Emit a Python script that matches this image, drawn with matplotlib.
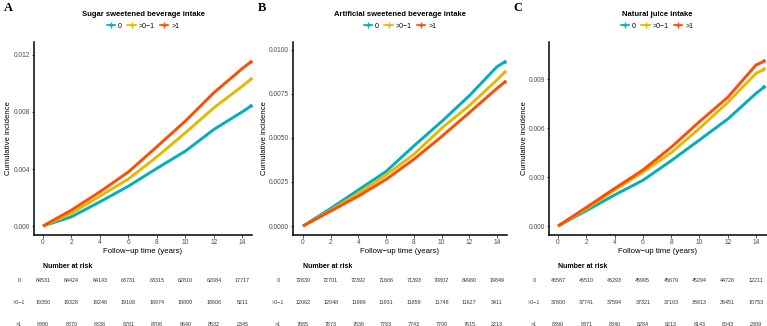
import matplotlib
matplotlib.use("Agg")
import matplotlib.pyplot as plt
from matplotlib.lines import Line2D
import numpy as np

plt.rcParams['font.family'] = ['Liberation Sans', 'DejaVu Sans']

groups = ["0", ">0\u22121", ">1"]
colors = ["#00AFBB", "#E7B800", "#FC4E07"]
times = [0, 2, 4, 6, 8, 10, 12, 14, 14.6]

# Panel A: Sugar sweetened beverage intake
a_title = "Sugar sweetened beverage intake"
a_0 = [0, 0.00065, 0.0017, 0.0028, 0.00405, 0.00526, 0.00678, 0.00802, 0.00842]
a_01 = [0, 0.00089, 0.0021, 0.0033, 0.00486, 0.00655, 0.0083, 0.00982, 0.0103]
a_1 = [0, 0.00112, 0.0024, 0.0038, 0.00557, 0.00737, 0.00936, 0.01106, 0.01153]
a_yticks = [0.000, 0.004, 0.008, 0.012]
a_yticklabels = ["0.000", "0.004", "0.008", "0.012"]
a_risk_0 = [64531, 64424, 64143, 63731, 63315, 62810, 62084, 17717]
a_risk_01 = [19350, 19328, 19246, 19108, 18974, 18800, 18606, 5211]
a_risk_1 = [8890, 8870, 8838, 8781, 8706, 8640, 8532, 2345]

# Panel B: Artificial sweetened beverage intake
b_title = "Artificial sweetened beverage intake"
b_0 = [0, 0.0010, 0.00205, 0.0031, 0.00455, 0.00593, 0.0074, 0.00905, 0.00934]
b_01 = [0, 0.0009, 0.00186, 0.0029, 0.00407, 0.00555, 0.00684, 0.0083, 0.00877]
b_1 = [0, 0.00085, 0.0017, 0.00265, 0.00379, 0.00508, 0.00644, 0.00782, 0.0082]
b_yticks = [0.0, 0.0025, 0.005, 0.0075, 0.01]
b_yticklabels = ["0.0000", "0.0025", "0.0050", "0.0075", "0.0100"]
b_risk_0 = [72830, 72701, 72392, 71686, 71393, 70802, 69980, 19849]
b_risk_01 = [12062, 12048, 11999, 11931, 11859, 11748, 11627, 3411]
b_risk_1 = [7885, 7873, 7836, 7783, 7743, 7700, 7615, 2213]

# Panel C: Natural juice intake
c_title = "Natural juice intake"
c_0 = [0, 0.00094, 0.0019, 0.0028, 0.0040, 0.00527, 0.00655, 0.00812, 0.00853]
c_01 = [0, 0.00105, 0.0022, 0.0033, 0.00449, 0.00598, 0.00757, 0.00935, 0.0096]
c_1 = [0, 0.00114, 0.0023, 0.00343, 0.00482, 0.00639, 0.00788, 0.00986, 0.0101]
c_yticks = [0.0, 0.003, 0.006, 0.009]
c_yticklabels = ["0.000", "0.003", "0.006", "0.009"]
c_risk_0 = [46587, 46510, 46293, 45995, 45679, 45294, 44728, 12211]
c_risk_01 = [37800, 37741, 37594, 37321, 37103, 36813, 36451, 10753]
c_risk_1 = [8390, 8371, 8340, 8284, 8213, 8143, 8043, 2309]

risk_times = [0, 2, 4, 6, 8, 10, 12, 14]
xticks = [0, 2, 4, 6, 8, 10, 12, 14]

W, H = 767, 326
fig = plt.figure(figsize=(W / 100, H / 100), dpi=100)

def px_rect(x0, y0, x1, y1):
    return [x0 / W, 1 - y1 / H, (x1 - x0) / W, (y1 - y0) / H]

panels = [
    dict(letter="A", lx=4, title=a_title, tx=143, series=[a_0, a_01, a_1],
         yticks=a_yticks, ytl=a_yticklabels, risk=[a_risk_0, a_risk_01, a_risk_1],
         box=(34, 42, 252, 235), xlim=(-0.63, 14.67), ylim=(-0.00063, 0.01291), ylab_x=9),
    dict(letter="B", lx=258, title=b_title, tx=400, series=[b_0, b_01, b_1],
         yticks=b_yticks, ytl=b_yticklabels, risk=[b_risk_0, b_risk_01, b_risk_1],
         box=(293, 42, 507, 235), xlim=(-0.72, 14.72), ylim=(-0.00051, 0.01045), ylab_x=264),
    dict(letter="C", lx=513, title=c_title, tx=657, series=[c_0, c_01, c_1],
         yticks=c_yticks, ytl=c_yticklabels, risk=[c_risk_0, c_risk_01, c_risk_1],
         box=(549, 42, 767, 235), xlim=(-0.64, 14.78), ylim=(-0.00055, 0.01127), ylab_x=524),
]

for p in panels:
    x0, y0, x1, y1 = p["box"]
    ax = fig.add_axes(px_rect(x0, y0, x1, y1))
    for s, c in zip(p["series"], colors):
        ax.plot(times, s, color=c, lw=2.1, solid_capstyle='butt', solid_joinstyle='round', zorder=3)
        ax.plot(times[-1:], s[-1:], marker='+', color=c, ms=3, mew=1.2, zorder=3)
    ax.set_xlim(*p["xlim"])
    ax.set_ylim(*p["ylim"])
    ax.set_xticks(xticks)
    ax.set_yticks(p["yticks"])
    ax.set_yticklabels(p["ytl"])
    for sp in ["top", "right"]:
        ax.spines[sp].set_visible(False)
    for sp in ["left", "bottom"]:
        ax.spines[sp].set_linewidth(1.1)
        ax.spines[sp].set_color("black")
    ax.tick_params(axis='both', labelsize=4.8, colors="#4D4D4D", length=1.8, width=0.6, pad=1)
    ax.tick_params(axis='both', color="#333333")
    ax.set_xlabel("Follow\u2212up time (years)", fontsize=5.6, labelpad=1.5)
    fig.text(p["ylab_x"] / W, 1 - 138 / H, "Cumulative incidence", rotation=90,
             ha='center', va='center', fontsize=5.6)
    # title and legend
    fig.text(p["tx"] / W, 1 - 15 / H, p["title"], ha='center', va='center',
             fontsize=5.5, fontweight='bold')
    handles = [Line2D([0], [0], color=c, lw=1.2, marker='+', ms=4, mew=1.0) for c in colors]
    fig.legend(handles, groups, loc='center', bbox_to_anchor=(p["tx"] / W, 1 - 26 / H),
               ncol=3, frameon=False, fontsize=5.0, handlelength=1.2, handletextpad=0.4,
               columnspacing=0.8, borderaxespad=0, borderpad=0)
    fig.text(p["lx"] / W, 1 - 8 / H, p["letter"], ha='left', va='center',
             fontsize=9, fontweight='bold', family='Liberation Serif')
    # risk table
    rax = fig.add_axes(px_rect(x0, 258, x1, 326))
    rax.set_xlim(*p["xlim"])
    rax.set_ylim(326, 258)
    rax.axis('off')
    rax.text(0, 266, "Number at risk", ha='left', va='center', fontsize=5, fontweight='bold')
    row_y = [281, 303, 324]
    for gi, (g, vals) in enumerate(zip(groups, p["risk"])):
        for t, v in zip(risk_times, vals):
            rax.text(t, row_y[gi], str(v), ha='center', va='center', fontsize=3.9, color="#333333")
        fig.text((x0 - 15) / W, 1 - row_y[gi] / H, g, ha='center', va='center',
                 fontsize=3.9, color="#333333")

fig.savefig("out.png", dpi=100)
